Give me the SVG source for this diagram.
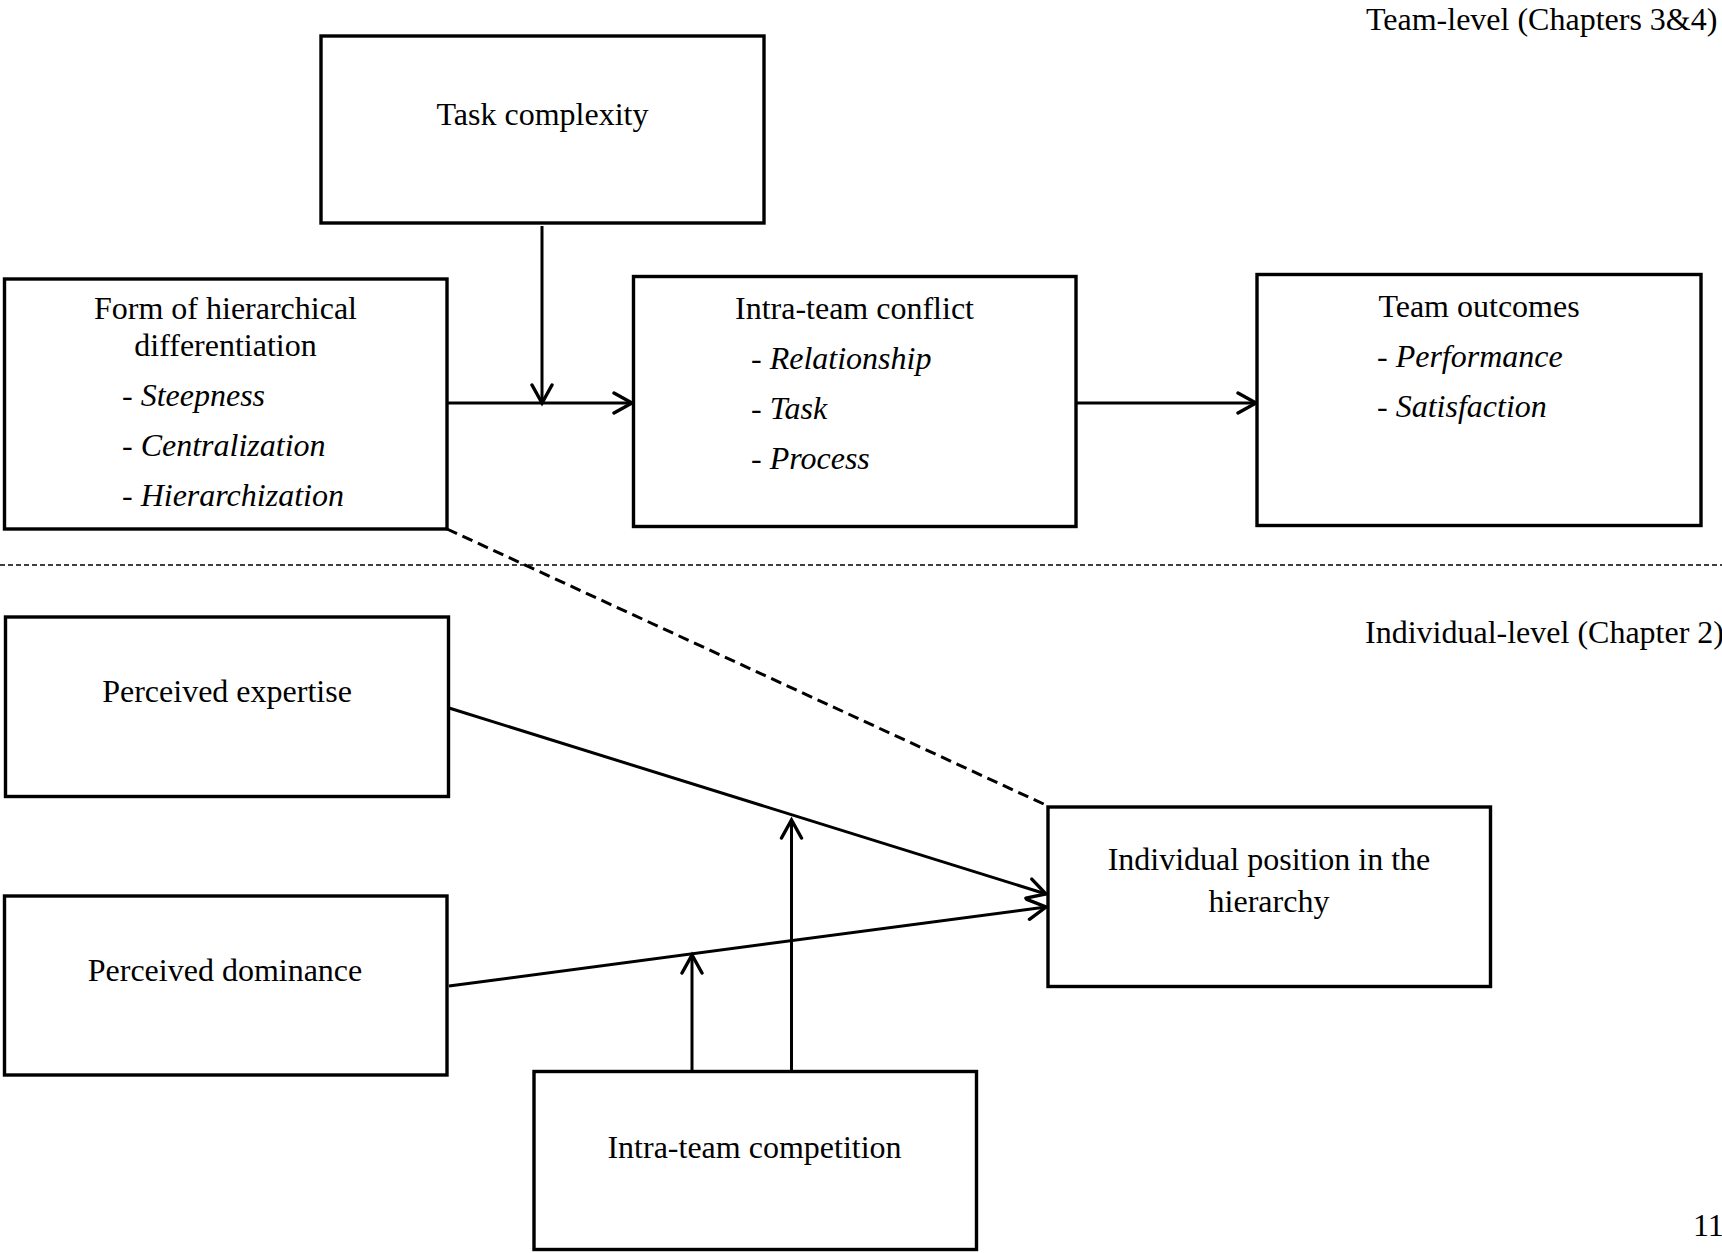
<svg xmlns="http://www.w3.org/2000/svg" width="1722" height="1253" viewBox="0 0 1722 1253">
<style>
  .box { fill: #fff; stroke: #000; stroke-width: 3.4; }
  text { font-family: "Liberation Serif", "Times New Roman", serif; font-size: 32px; fill: #000; }
  .c { text-anchor: middle; }
  .i { font-style: italic; }
  .ln { stroke: #000; stroke-width: 3; fill: none; }
  .arr { marker-end: url(#ah); }
</style>
<defs>
  <marker id="ah" markerUnits="userSpaceOnUse" markerWidth="24" markerHeight="26" viewBox="0 0 24 26" refX="20" refY="13" orient="auto">
    <path d="M2,3 L20,13 L2,23" fill="none" stroke="#000" stroke-width="3.4" stroke-linecap="round" stroke-linejoin="miter"/>
  </marker>
</defs>
<rect width="1722" height="1253" fill="#fff"/>

<g id="labels">
  <text x="1366" y="30">Team-level (Chapters 3&amp;4)</text>
  <text x="1365" y="643">Individual-level (Chapter 2)</text>
  <text x="1693" y="1236">11</text>
</g>

<g id="connectors">
  <line x1="0" y1="565" x2="1722" y2="565" stroke="#000" stroke-width="1.5" stroke-dasharray="5 3"/>
  <line x1="447" y1="529" x2="1048" y2="806" stroke="#000" stroke-width="3" stroke-dasharray="11 6"/>
  <line class="ln arr" x1="542" y1="226" x2="542" y2="403"/>
  <line class="ln arr" x1="447" y1="403" x2="632" y2="403"/>
  <line class="ln arr" x1="1076" y1="403" x2="1256" y2="403"/>
  <line class="ln arr" x1="449" y1="708" x2="1046" y2="894"/>
  <line class="ln arr" x1="449" y1="986" x2="1046" y2="907"/>
  <line class="ln arr" x1="692" y1="1071" x2="692" y2="955"/>
  <line class="ln arr" x1="791.5" y1="1071" x2="791.5" y2="820"/>
</g>

<g id="task-complexity">
  <rect class="box" x="321" y="36" width="443" height="187"/>
  <text class="c" x="542.5" y="125">Task complexity</text>
</g>

<g id="form-hierarchical">
  <rect class="box" x="4.5" y="279" width="442.5" height="250"/>
  <text class="c" x="225.5" y="319">Form of hierarchical</text>
  <text class="c" x="225.5" y="356">differentiation</text>
  <text x="122" y="406">- <tspan class="i">Steepness</tspan></text>
  <text x="122" y="456">- <tspan class="i">Centralization</tspan></text>
  <text x="122" y="506">- <tspan class="i">Hierarchization</tspan></text>
</g>

<g id="intra-team-conflict">
  <rect class="box" x="633.5" y="276.5" width="442.5" height="250"/>
  <text class="c" x="854.5" y="319">Intra-team conflict</text>
  <text x="751" y="369">- <tspan class="i">Relationship</tspan></text>
  <text x="751" y="419">- <tspan class="i">Task</tspan></text>
  <text x="751" y="469">- <tspan class="i">Process</tspan></text>
</g>

<g id="team-outcomes">
  <rect class="box" x="1257" y="274.5" width="444" height="251"/>
  <text class="c" x="1479" y="317">Team outcomes</text>
  <text x="1377" y="367">- <tspan class="i">Performance</tspan></text>
  <text x="1377" y="417">- <tspan class="i">Satisfaction</tspan></text>
</g>

<g id="perceived-expertise">
  <rect class="box" x="5.5" y="617" width="443" height="179.5"/>
  <text class="c" x="227" y="702">Perceived expertise</text>
</g>

<g id="perceived-dominance">
  <rect class="box" x="4.5" y="896" width="442.5" height="179"/>
  <text class="c" x="225" y="981">Perceived dominance</text>
</g>

<g id="individual-position">
  <rect class="box" x="1048" y="807" width="442.5" height="179.5"/>
  <text class="c" x="1269" y="870">Individual position in the</text>
  <text class="c" x="1269" y="912">hierarchy</text>
</g>

<g id="intra-team-competition">
  <rect class="box" x="534" y="1071.5" width="442.5" height="178"/>
  <text class="c" x="754.5" y="1158">Intra-team competition</text>
</g>
</svg>
